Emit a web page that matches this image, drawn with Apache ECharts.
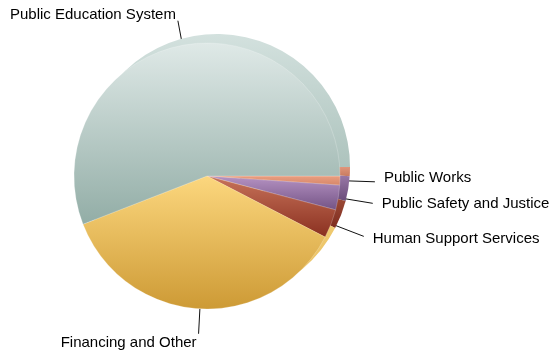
<!DOCTYPE html>
<html>
<head>
<meta charset="utf-8">
<script src="https://cdn.jsdelivr.net/npm/echarts@6/dist/echarts.min.js"></script>
<style>html,body{margin:0;padding:0;background:#fff;}#c{width:552px;height:353px;}</style>
</head>
<body>
<div id="c"></div>
<script>
// Data (clockwise from 3 o'clock)
const categories = ['Public Works', 'Public Safety and Justice', 'Human Support Services', 'Financing and Other', 'Public Education System'];
const values = [1.1, 3.0, 3.5, 36.5, 55.9];

// Styles
const topColors = ['#ea9f80', '#b693c3', '#c8735a', '#fcd77e', '#dfe9e7'];
const bottomColors = ['#d6866a', '#735385', '#8a3020', '#cd9a35', '#92ada6'];
const backTop = ['#e0957a', '#a886b5', '#bb6a52', '#f5d27c', '#d3e1de'];
const backBottom = ['#c87b60', '#6a4c7a', '#7e2c1e', '#e8bf60', '#9fb8b1'];
const lineLengths = [35, 35, 35, 25, 25];
const labelShiftY = [-4, 1, 2, 9, -6];
const labelGaps = [9, 9, 9, 2, 2];

function grad(a, b) {
  return new echarts.graphic.LinearGradient(0, 0, 0, 1, [{offset: 0, color: a}, {offset: 1, color: b}]);
}

const frontData = categories.map((n, i) => ({
  name: n, value: values[i],
  itemStyle: {color: grad(topColors[i], bottomColors[i])},
  label: {distanceToLabelLine: labelGaps[i]},
  labelLine: {length: lineLengths[i]}
}));
const backData = categories.map((n, i) => ({
  name: n, value: values[i],
  itemStyle: {color: grad(backTop[i], backBottom[i])}
}));

const chart = echarts.init(document.getElementById('c'), null, {renderer: 'canvas'});
chart.setOption({
  animation: false,
  backgroundColor: '#fff',
  series: [
    {
      type: 'pie', silent: true,
      center: [217, 167], radius: 133,
      startAngle: 0, clockwise: true,
      label: {show: false}, labelLine: {show: false},
      data: backData
    },
    {
      type: 'pie',
      center: [207, 176], radius: 133,
      startAngle: 0, clockwise: true,
      avoidLabelOverlap: false,
      itemStyle: {borderColor: 'rgba(255,255,255,0.35)', borderWidth: 0.6},
      label: {
        show: true, color: '#000', fontSize: 15,
        fontFamily: 'Liberation Sans, Arial, sans-serif',
        distanceToLabelLine: 9
      },
      labelLine: {show: true, length: 30, length2: 0, smooth: false, lineStyle: {color: '#111', width: 1}},
      labelLayout: function (p) { return {dy: labelShiftY[p.dataIndex]}; },
      data: frontData
    }
  ]
});
</script>
</body>
</html>
